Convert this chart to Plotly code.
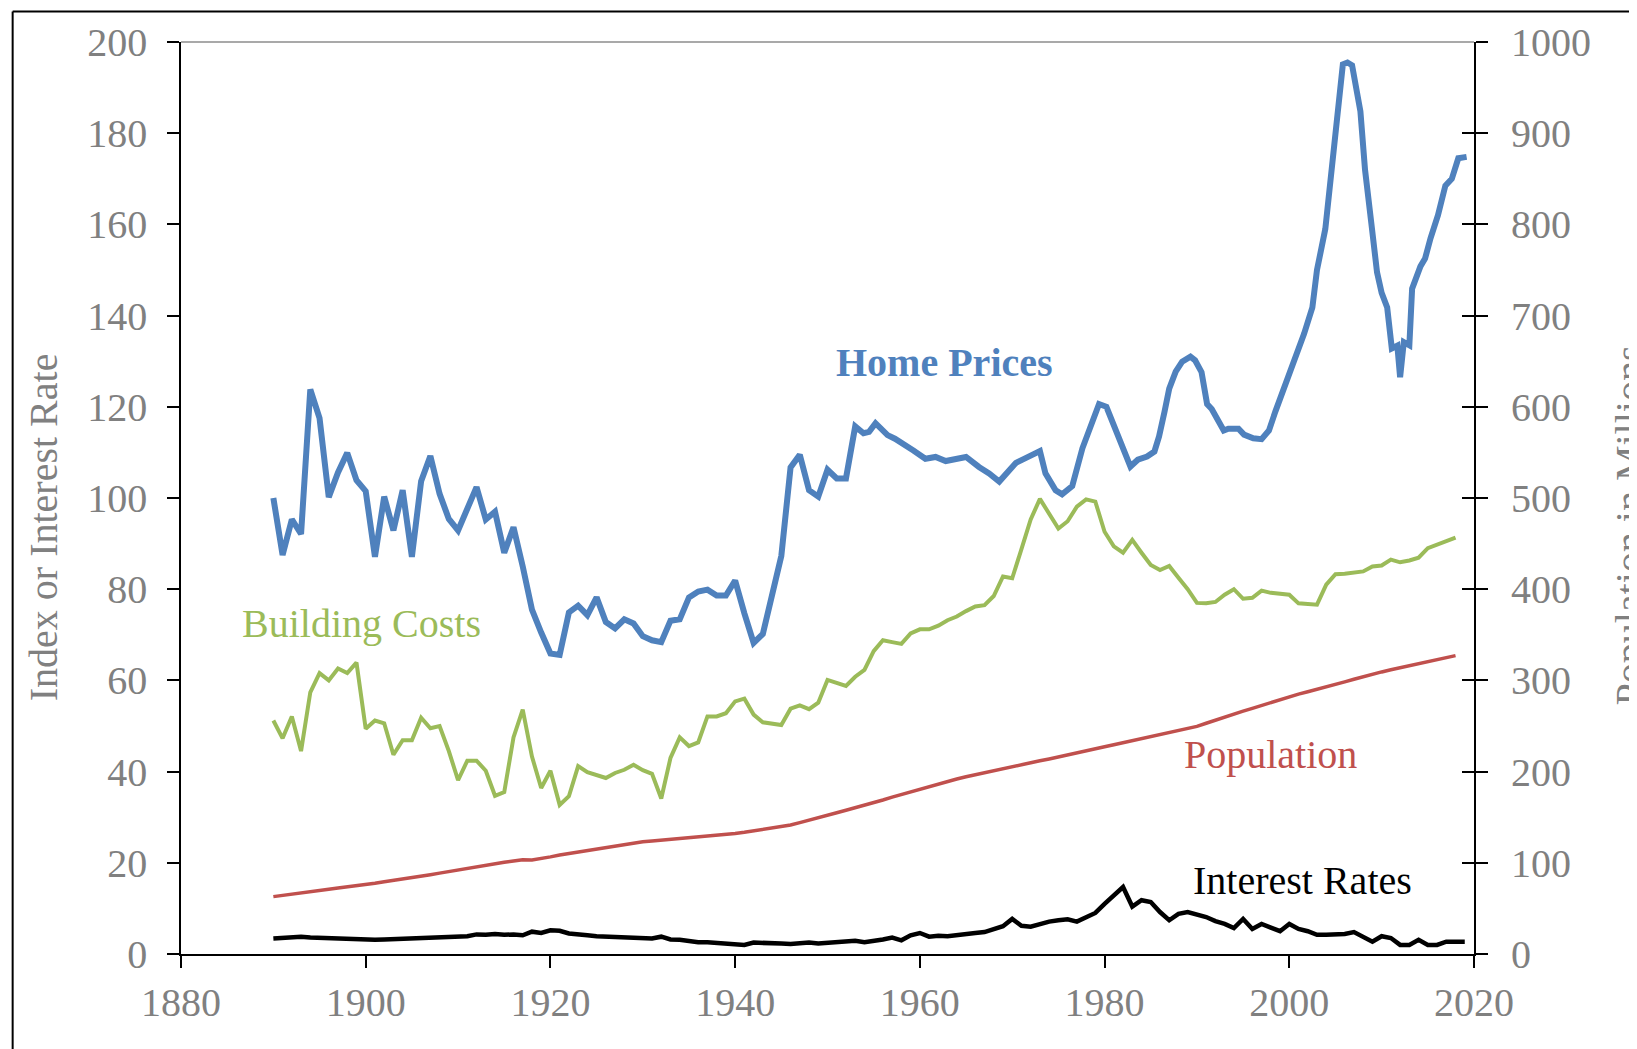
import plotly.graph_objects as go

# annual readings, 1890 onward
years = list(range(1890, 2019))

home_years_early = list(range(1890, 1954))
home_early = [
    100.0, 87.5, 95.3, 92.1, 123.8, 117.5, 100.2, 105.6, 109.9, 103.9,
    101.5, 87.1, 100.3, 92.9, 101.7, 87.1, 103.7, 109.2, 100.9, 95.4,
    92.9, 97.4, 102.4, 95.3, 97.0, 88.0, 93.6, 85.0, 75.5, 70.5,
    65.9, 65.6, 74.9, 76.4, 74.3, 78.2, 72.8, 71.4, 73.4, 72.5,
    69.7, 68.8, 68.4, 73.1, 73.4, 78.2, 79.5, 79.9, 78.6, 78.6,
    81.9, 74.7, 68.2, 70.2, 79.0, 87.3, 106.7, 109.5, 101.7, 100.3,
    106.2, 104.3, 104.3, 115.7,
]

# later home prices are sub-annual, read at the points where the line turns
home_years_late = [
    1953.9, 1954.5, 1955.2, 1955.7, 1956.5, 1957.3, 1958.1, 1959.3, 1960.6, 1961.7,
    1962.8, 1964.0, 1965.0, 1966.4, 1967.5, 1968.6, 1969.5, 1970.4, 1971.5, 1972.5,
    1973.0, 1973.6, 1974.7, 1975.4, 1976.5, 1977.6, 1978.5, 1979.4, 1980.2, 1980.8,
    1981.3, 1981.9, 1982.5, 1982.8, 1983.6, 1984.6, 1985.4, 1985.9, 1986.5, 1987.0,
    1987.7, 1988.4, 1989.3, 1989.8, 1990.5, 1991.1, 1991.6, 1992.2, 1992.9, 1993.4,
    1994.5, 1995.1, 1996.1, 1997.0, 1997.8, 1998.5, 1999.6, 2000.6, 2001.6, 2002.5,
    2003.0, 2003.9, 2004.6, 2005.3, 2005.8, 2006.3, 2006.8, 2007.7, 2008.2, 2008.95,
    2009.5, 2010.0, 2010.6, 2011.1, 2011.7, 2012.0, 2012.4, 2013.0, 2013.3, 2014.2,
    2014.7, 2015.3, 2016.1, 2016.9, 2017.6, 2018.3, 2019.2,
]
home_late = [
    114.2, 114.5, 116.4, 115.4, 113.8, 113.0, 111.8, 110.4, 108.6, 109.0,
    108.1, 108.6, 109.0, 106.8, 105.4, 103.6, 105.5, 107.7, 108.8, 109.8,
    110.3, 105.4, 101.7, 100.8, 102.6, 110.9, 116.0, 120.6, 120.0, 117.1,
    114.2, 111.7, 108.7, 106.9, 108.4, 109.1, 110.2, 113.5, 119.0, 124.0,
    127.7, 129.9, 131.0, 130.2, 127.6, 120.6, 119.5, 117.4, 114.8, 115.2,
    115.2, 113.9, 113.1, 112.9, 114.8, 119.0, 125.0, 130.2, 136.0, 141.8,
    150.0, 159.0, 171.3, 184.8, 195.1, 195.5, 194.9, 184.8, 172.0, 159.1,
    149.5, 145.0, 141.8, 132.8, 133.4, 126.5, 134.2, 133.5, 145.9, 150.8,
    152.5, 157.0, 162.0, 168.5, 170.0, 174.5, 174.8,
]

building_costs = [
    51.2, 47.3, 52.1, 44.5, 57.4, 61.6, 60.0, 62.6, 61.6, 63.9,
    49.4, 51.2, 50.6, 43.7, 46.9, 46.9, 51.8, 49.5, 50.0, 44.5,
    38.1, 42.4, 42.4, 40.2, 34.7, 35.5, 47.5, 53.6, 43.3, 36.4,
    40.2, 32.7, 34.6, 41.2, 39.9, 39.2, 38.6, 39.7, 40.4, 41.5,
    40.3, 39.5, 34.1, 43.0, 47.5, 45.6, 46.4, 52.1, 52.1, 52.8,
    55.4, 56.0, 52.5, 50.8, 50.5, 50.2, 53.8, 54.5, 53.7, 55.1,
    60.1, 59.5, 58.8, 60.8, 62.3, 66.4, 68.8, 68.4, 68.0, 70.3,
    71.2, 71.2, 72.0, 73.2, 74.0, 75.2, 76.2, 76.5, 78.5, 82.8,
    82.4, 88.8, 95.3, 99.8, 96.5, 93.3, 94.9, 98.1, 99.7, 99.2,
    92.6, 89.4, 88.0, 90.8, 88.0, 85.3, 84.2, 85.1, 82.5, 80.0,
    77.0, 76.9, 77.2, 78.8, 80.0, 77.9, 78.1, 79.7, 79.2, 79.0,
    78.8, 76.9, 76.8, 76.6, 81.0, 83.3, 83.4, 83.6, 83.9, 85.0,
    85.2, 86.5, 85.9, 86.3, 86.9, 89.0, 89.8, 90.4, 91.3,
]

# millions, right axis
population = [
    62.9, 64.4, 65.7, 67.0, 68.3, 69.6, 71.0, 72.4, 73.5, 74.8,
    76.1, 77.6, 79.2, 80.6, 82.2, 83.8, 85.5, 87.0, 88.7, 90.5,
    92.4, 93.9, 95.3, 97.2, 99.1, 100.5, 102.0, 103.3, 103.2, 104.5,
    106.5, 108.5, 110.1, 112.0, 114.1, 115.8, 117.4, 119.0, 120.5, 121.8,
    123.1, 124.0, 124.8, 125.6, 126.4, 127.3, 128.1, 128.8, 129.8, 130.9,
    132.1, 133.4, 134.9, 136.7, 138.4, 139.9, 141.4, 144.1, 146.6, 149.2,
    151.7, 154.9, 157.6, 160.2, 163.0, 165.9, 168.9, 172.0, 174.9, 177.8,
    180.7, 183.7, 186.5, 189.2, 191.9, 194.3, 196.6, 198.7, 200.7, 202.7,
    205.1, 207.7, 209.9, 211.9, 213.9, 216.0, 218.0, 220.2, 222.6, 225.1,
    227.2, 229.5, 231.7, 233.8, 235.8, 237.9, 240.1, 242.3, 244.5, 246.8,
    249.6, 253.0, 256.5, 259.9, 263.1, 266.3, 269.4, 272.6, 275.9, 279.0,
    282.2, 285.0, 287.6, 290.1, 292.8, 295.5, 298.4, 301.2, 304.1, 306.8,
    309.3, 311.6, 313.9, 316.1, 318.4, 320.7, 323.1, 325.1, 327.2,
]

rate_years = list(range(1890, 2020))
interest_rates = [
    3.4, 3.5, 3.5, 3.8, 3.6, 3.5, 3.4, 3.4, 3.3, 3.1,
    3.1, 3.1, 3.2, 3.3, 3.4, 3.4, 3.6, 3.7, 3.8, 3.7,
    3.8, 3.9, 4.3, 4.2, 4.4, 4.2, 4.3, 4.1, 4.9, 4.6,
    5.2, 5.1, 4.5, 4.4, 4.1, 3.9, 3.8, 3.6, 3.5, 3.6,
    3.5, 3.4, 3.8, 3.2, 3.1, 2.8, 2.6, 2.6, 2.5, 2.4,
    2.2, 2.0, 2.5, 2.5, 2.4, 2.3, 2.2, 2.3, 2.5, 2.3,
    2.4, 2.6, 2.8, 2.9, 2.6, 2.8, 3.2, 3.6, 3.0, 4.1,
    4.6, 3.8, 4.0, 3.9, 4.2, 4.3, 4.6, 4.8, 5.5, 6.1,
    7.7, 6.2, 6.0, 6.6, 7.1, 7.4, 7.6, 7.1, 8.0, 9.0,
    11.0, 12.8, 14.7, 10.4, 11.8, 11.4, 9.2, 7.4, 8.8, 9.2,
    8.6, 8.1, 7.2, 6.6, 5.7, 7.7, 5.5, 6.6, 5.8, 5.0,
    6.6, 5.5, 5.0, 4.2, 4.2, 4.2, 4.4, 4.8, 3.8, 2.7,
    3.9, 3.5, 2.0, 2.0, 3.1, 2.0, 2.0, 2.7, 2.7, 2.7,
]

x_ticks = [1880, 1900, 1920, 1940, 1960, 1980, 2000, 2020]

FONT = "Liberation Serif"
GREY = "#808080"
BLUE = "#4F81BD"
GREEN = "#9BBB59"
RED = "#C0504D"


def main():
    fig = go.Figure()
    fig.add_trace(go.Scatter(x=rate_years, y=interest_rates, mode="lines", name="Interest Rates",
                             line={'color': 'black', 'width': 4.5}))
    fig.add_trace(go.Scatter(x=years, y=population, mode="lines", name="Population", yaxis="y2",
                             line={'color': RED, 'width': 3.5}))
    fig.add_trace(go.Scatter(x=years, y=building_costs, mode="lines", name="Building Costs",
                             line={'color': GREEN, 'width': 4}))
    fig.add_trace(go.Scatter(x=home_years_early + home_years_late, y=home_early + home_late,
                             mode="lines", name="Home Prices",
                             line={'color': BLUE, 'width': 6}))

    tick_font = dict(family=FONT, size=40, color=GREY)
    # the page body adds 8px on the left and top, so the figure is 8px smaller
    fig.update_layout(
        width=1629,
        height=1041,
        margin=dict(l=173, r=163, t=31, b=95),
        paper_bgcolor="white",
        plot_bgcolor="white",
        showlegend=False,
        font=dict(family=FONT),
        xaxis=dict(
            range=[1880, 2020], tickvals=x_ticks, ticks="outside", ticklen=12, tickwidth=1.5,
            tickcolor="black", showline=True, linecolor="black", linewidth=1.5,
            showgrid=False, zeroline=False, tickfont=tick_font, ticklabelstandoff=0,
        ),
        yaxis=dict(
            range=[0, 200], dtick=20, ticks="outside", ticklen=12, tickwidth=1.5,
            tickcolor="black", showline=True, linecolor="black", linewidth=1.5, mirror="ticks",
            showgrid=False, zeroline=False, tickfont=tick_font, ticklabelstandoff=12,
        ),
        yaxis2=dict(
            range=[0, 1000], dtick=100, overlaying="y", side="right", ticks="inside",
            ticklen=12, tickwidth=1.5, tickcolor="black", showline=False,
            showgrid=False, zeroline=False, tickfont=tick_font, ticklabelstandoff=36,
        ),
    )

    # thin grey line closing the top of the plot area, and the frame of the original picture
    fig.add_shape(type="line", xref="paper", yref="paper", x0=0, x1=1, y0=1, y1=1,
                  line=dict(color="#8c8c8c", width=1.5))
    fig.add_shape(type="line", xref="paper", yref="paper", x0=-0.1302, x1=-0.1302, y0=1.0335, y1=-0.2,
                  line=dict(color="black", width=2))
    fig.add_shape(type="line", xref="paper", yref="paper", x0=-0.1302, x1=1.3, y0=1.0335, y1=1.0335,
                  line=dict(color="black", width=2))

    fig.add_annotation(text="Index or Interest Rate", xref="paper", yref="paper", x=-0.1067, y=0.468,
                       xanchor="center", yanchor="middle", textangle=-90, showarrow=False,
                       font=dict(family=FONT, size=40, color=GREY))
    fig.add_annotation(text="Population in Millions", xref="paper", yref="paper", x=1.12, y=0.47,
                       xanchor="center", yanchor="middle", textangle=-90, showarrow=False,
                       font=dict(family=FONT, size=40, color=GREY))

    labels = [
        ("<b>Home Prices</b>", 1962.7, 129.8, BLUE),
        ("Building Costs", 1899.5, 72.5, GREEN),
        ("Population", 1998.0, 43.7, RED),
        ("Interest Rates", 2001.4, 16.2, "black"),
    ]
    for text, lx, ly, col in labels:
        fig.add_annotation(text=text, x=lx, y=ly, showarrow=False,
                           font=dict(family=FONT, size=40, color=col))

    fig.write_html("out.html")
    return 0


if __name__ == "__main__":
    exit(main())
